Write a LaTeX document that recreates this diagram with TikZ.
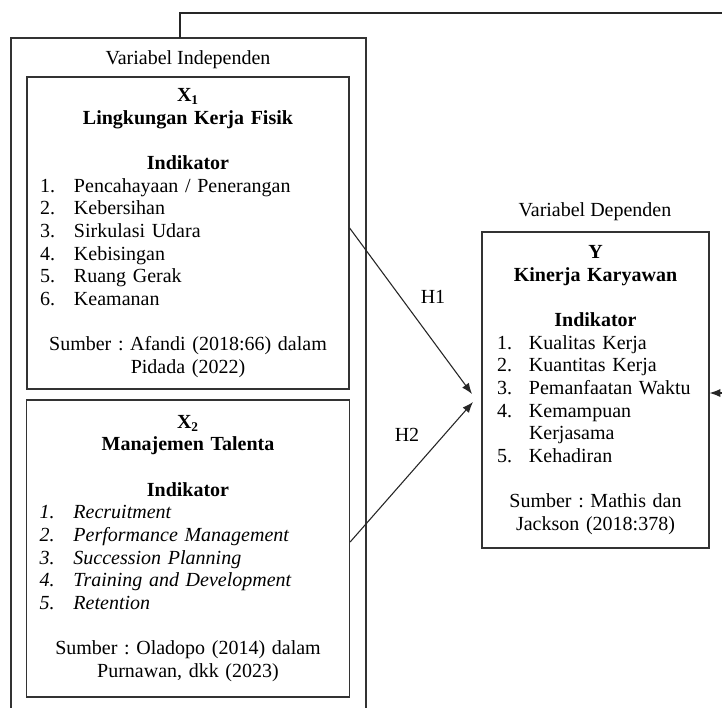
\documentclass[tikz,border=0pt]{standalone}
\usepackage{fontspec}
\setmainfont{Liberation Serif}
\usetikzlibrary{arrows.meta}
\frenchspacing
\newlength{\numw}
\newcommand{\itm}[2]{\par\noindent\hangindent=\numw\hangafter=1\makebox[\numw][l]{#1}#2\par}
\tikzset{
  kotak/.style={draw=black!80, line width=0.75pt, align=left,
    font=\fontsize{12}{13.6}\selectfont},
  teks/.style={font=\fontsize{12}{13.6}\selectfont, inner sep=0pt},
  garis/.style={draw=black!80, line width=0.75pt},
  panah/.style={draw=black!85, line width=0.65pt, -{Latex[length=6.5pt,width=5pt]}}
}

\begin{document}
\begin{tikzpicture}[x=0.6pt,y=-0.6pt]
			\clip (0,0) rectangle (722,708);
			% kotak luar variabel independen
			\coordinate (oBL) at (11,740);
			\coordinate (oTL) at (11,38);
			\coordinate (oTR) at (366,38);
			\coordinate (oBR) at (366,740);
			\draw [garis] (oBL) -- (oTL) -- (oTR) -- (oBR);
			\node [teks] (indep) at (188,60) {Variabel Independen};
			\node [teks] (dep) at (595,212) {Variabel Dependen};
			% X1
			\node [kotak, inner xsep=7.8pt, text width=177.6pt, minimum height=187.2pt] (X1) at (188,233) {%
				\setlength{\numw}{20.4pt}%
				\centerline{\textbf{X\textsubscript{1}}}
				\centerline{\textbf{Lingkungan Kerja Fisik}}
				\centerline{}
				\centerline{\textbf{Indikator}}
				\itm{1.}{Pencahayaan / Penerangan}
				\itm{2.}{Kebersihan}
				\itm{3.}{Sirkulasi Udara}
				\itm{4.}{Kebisingan}
				\itm{5.}{Ruang Gerak}
				\itm{6.}{Keamanan}
				\centerline{}
				\centerline{Sumber : Afandi (2018:66) dalam}
				\centerline{Pidada (2022)}};
			% X2
			\node [kotak, inner xsep=7.8pt, text width=178.2pt, minimum height=178.2pt] (X2) at (188,548.5) {%
				\setlength{\numw}{20.4pt}%
				\centerline{\textbf{X\textsubscript{2}}}
				\centerline{\textbf{Manajemen Talenta}}
				\centerline{}
				\centerline{\textbf{Indikator}}
				\itm{\textit{1.}}{\textit{Recruitment}}
				\itm{\textit{2.}}{\textit{Performance Management}}
				\itm{\textit{3.}}{\textit{Succession Planning}}
				\itm{\textit{4.}}{\textit{Training and Development}}
				\itm{\textit{5.}}{\textit{Retention}}
				\centerline{}
				\centerline{Sumber : Oladopo (2014) dalam}
				\centerline{Purnawan, dkk (2023)}};
			% Y
			\node [kotak, inner xsep=9pt, text width=118.2pt, minimum height=189.6pt] (Y) at (595.5,390) {%
				\setlength{\numw}{19.2pt}%
				\centerline{\textbf{Y}}
				\centerline{\textbf{Kinerja Karyawan}}
				\centerline{}
				\centerline{\textbf{Indikator}}
				\itm{1.}{Kualitas Kerja}
				\itm{2.}{Kuantitas Kerja}
				\itm{3.}{Pemanfaatan Waktu}
				\itm{4.}{Kemampuan\newline Kerjasama}
				\itm{5.}{Kehadiran}
				\centerline{}
				\centerline{Sumber : Mathis dan}
				\centerline{Jackson (2018:378)}};
			% hipotesis
			\coordinate (h1) at (472,394);
			\coordinate (h2) at (473,402);
			\draw [panah] ([yshift=3pt]X1.east) -- (h1);
			\draw [panah] ([yshift=3.9pt]X2.east) -- (h2);
			\node [teks] (H1) at (433,297) {H1};
			\node [teks] (H2) at (407,435) {H2};
			% garis simultan
			\coordinate (fb) at (180,38);
			\coordinate (fbK) at (745,13);
			\draw [panah] (fb) |- (fbK) |- ([yshift=-1.8pt]Y.east);
		\end{tikzpicture}
\end{document}
